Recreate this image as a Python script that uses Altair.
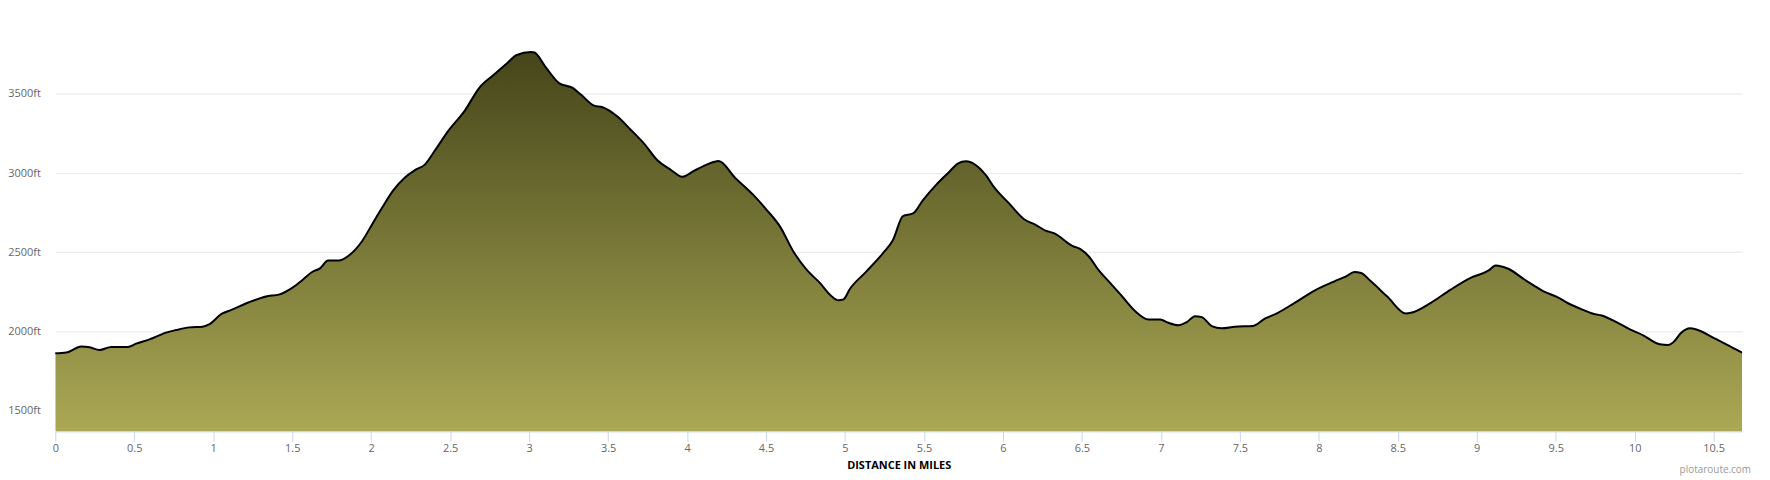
import altair as alt
import pandas as pd

miles = [0.00, 0.07, 0.165, 0.218, 0.28, 0.354, 0.459, 0.512, 0.596, 0.701, 0.764, 0.848,
         0.932, 0.974, 1.058, 1.111, 1.226, 1.342, 1.415, 1.5, 1.562, 1.626, 1.678, 1.727,
         1.794, 1.857, 1.941, 2.004, 2.067, 2.141, 2.214, 2.277, 2.341, 2.404, 2.487, 2.593,
         2.687, 2.782, 2.866, 2.918, 3.013, 3.034, 3.107, 3.192, 3.276, 3.328, 3.412, 3.465,
         3.559, 3.643, 3.728, 3.812, 3.895, 3.969, 4.043, 4.127, 4.2, 4.305, 4.421, 4.505,
         4.589, 4.673, 4.757, 4.841, 4.915, 4.957, 4.989, 5.031, 5.136, 5.241, 5.304, 5.367,
         5.431, 5.494, 5.577, 5.661, 5.714, 5.766, 5.829, 5.892, 5.945, 6.039, 6.134, 6.207,
         6.27, 6.323, 6.439, 6.491, 6.544, 6.607, 6.67, 6.754, 6.838, 6.922, 6.996, 7.048,
         7.111, 7.164, 7.216, 7.259, 7.322, 7.385, 7.468, 7.584, 7.658, 7.741, 7.847, 7.973,
         8.099, 8.173, 8.225, 8.267, 8.33, 8.435, 8.551, 8.583, 8.709, 8.835, 8.961, 9.076,
         9.119, 9.203, 9.297, 9.36, 9.423, 9.507, 9.581, 9.655, 9.738, 9.791, 9.885, 9.97,
         10.054, 10.159, 10.212, 10.243, 10.296, 10.349, 10.391, 10.496, 10.58, 10.68]
elevation = [1860, 1865, 1903, 1898, 1881, 1900, 1900, 1921, 1948, 1991, 2007, 2024,
             2028, 2043, 2112, 2133, 2183, 2221, 2231, 2274, 2321, 2374, 2399, 2447,
             2447, 2477, 2567, 2672, 2777, 2892, 2972, 3018, 3055, 3143, 3265, 3395,
             3542, 3626, 3699, 3745, 3766, 3762, 3667, 3567, 3538, 3496, 3426, 3416,
             3357, 3274, 3186, 3081, 3022, 2976, 3013, 3055, 3076, 2969, 2860, 2766,
             2661, 2504, 2389, 2305, 2221, 2196, 2200, 2267, 2378, 2494, 2577, 2728,
             2745, 2829, 2925, 3008, 3060, 3074, 3049, 2986, 2909, 2808, 2708, 2672,
             2636, 2620, 2540, 2519, 2472, 2384, 2315, 2221, 2126, 2074, 2074, 2053,
             2038, 2057, 2095, 2089, 2032, 2018, 2028, 2033, 2079, 2116, 2179, 2257,
             2315, 2347, 2374, 2368, 2315, 2217, 2112, 2116, 2179, 2263, 2337, 2384,
             2416, 2393, 2330, 2290, 2252, 2217, 2175, 2143, 2110, 2099, 2057, 2011,
             1974, 1917, 1913, 1928, 1991, 2018, 2011, 1959, 1917, 1865]

x_ticks = [0, 0.5, 1, 1.5, 2, 2.5, 3, 3.5, 4, 4.5, 5, 5.5, 6, 6.5, 7, 7.5, 8, 8.5, 9, 9.5, 10, 10.5]
y_ticks = [1500, 2000, 2500, 3000, 3500]
x_domain = [0, 10.68]
y_domain = [1366, 3950]
credit = ["plotaroute.com"]

W, H = 1694.5, 410.5
FONT = "Open Sans"

df = pd.DataFrame({"mile": miles, "ft": elevation})

x_enc = alt.X(
    "mile:Q",
    scale=alt.Scale(domain=x_domain, nice=False, zero=False),
    axis=alt.Axis(
        values=x_ticks, labelExpr="datum.value + ''", title="DISTANCE IN MILES",
        grid=False, domainColor="#ccd6eb", tickColor="#ccd6eb", tickSize=10,
        labelColor="#666666", labelFont=FONT, labelFontSize=11, labelPadding=1,
        titleFont=FONT, titleFontSize=11, titleFontWeight="bold", titleColor="#000000",
        titlePadding=6, labelFlush=False, labelOverlap=False,
    ),
)
y_enc = alt.Y(
    "ft:Q",
    scale=alt.Scale(domain=y_domain, nice=False, zero=False),
    axis=alt.Axis(
        values=y_ticks, labelExpr="datum.value + 'ft'", title=None,
        domain=False, ticks=False, tickSize=0, gridColor="#e6e6e6", gridWidth=1,
        labelColor="#666666", labelFont=FONT, labelFontSize=11, labelPadding=15,
    ),
)

gradient = alt.Gradient(
    gradient="linear",
    stops=[alt.GradientStop(color="#45451a", offset=0),
           alt.GradientStop(color="#aba955", offset=1)],
    x1=1, x2=1, y1=0, y2=1,
)

base = alt.Chart(df)
area = base.mark_area(interpolate="monotone", fill=gradient, clip=True).encode(
    x=x_enc, y=y_enc, y2=alt.datum(y_domain[0])
)
line = base.mark_line(interpolate="monotone", color="#000000", strokeWidth=2,
                      strokeJoin="round", strokeCap="round", clip=True).encode(x="mile:Q", y="ft:Q")

credit_text = alt.Chart(pd.DataFrame({"t": credit})).mark_text(
    align="right", baseline="middle", font=FONT, fontSize=10, color="#999999"
).encode(text="t:N", x=alt.value(W + 9), y=alt.value(H + 39))

chart = alt.layer(area, line, credit_text).properties(
    width=W, height=H,
    autosize=alt.AutoSizeParams(type="none"),
    padding={"left": 47.5, "top": 13.8, "right": 20, "bottom": 44},
).configure(background="white").configure_view(strokeWidth=0, stroke="transparent")

chart.save("out.html", embed_options={"renderer": "svg", "actions": False})
